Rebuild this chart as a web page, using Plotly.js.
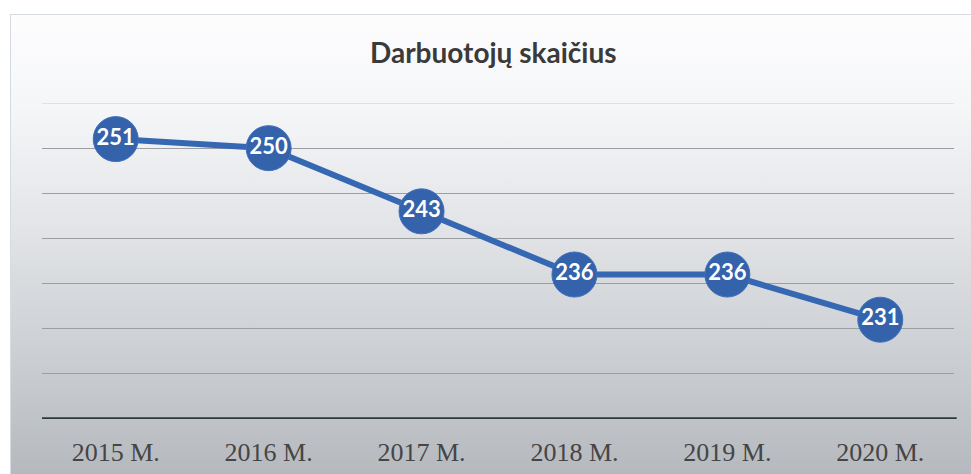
<!DOCTYPE html>
<html>
<head>
<meta charset="utf-8">
<script src="https://cdn.plot.ly/plotly-3.0.1.min.js"></script>
<style>
  html, body { margin:0; padding:0; background:#ffffff; }
  #wrap { position:relative; width:971px; height:474px; overflow:hidden; }
  #bg { position:absolute; left:10px; top:14px; width:961px; height:460px;
        border-left:1px solid #d6dbe2; border-top:1px solid #d6dbe2;
        background: linear-gradient(to bottom, #fdfdfe 0%, #f5f6f8 20%, #e3e5e8 45%, #cdd0d4 72%, #b5b9be 100%); }
  #chart { position:absolute; left:0; top:0; width:971px; height:474px; }
</style>
</head>
<body>
<div id="wrap">
  <div id="bg"></div>
  <div id="chart"></div>
</div>
<script>
const categories = ["2015 M.", "2016 M.", "2017 M.", "2018 M.", "2019 M.", "2020 M."];
const employees = [251, 250, 243, 236, 236, 231];
const chartTitle = "Darbuotojų skaičius";
const yMin = 220;
const yMax = 255;

const trace = {
  x: categories,
  y: employees,
  type: "scatter",
  mode: "lines+markers+text",
  text: employees.map(String),
  textposition: "middle center",
  textfont: { family: "Lato, 'Open Sans', sans-serif", size: 22, color: "#ffffff", weight: "bold" },
  line: { color: "#3567b3", width: 6 },
  marker: { size: 45, color: "#3462ab", line: { color: "#3f70bd", width: 1 } },
  hoverinfo: "skip",
  cliponaxis: false
};

const layout = {
  width: 971,
  height: 474,
  margin: { l: 42, r: 17, t: 103, b: 55 },
  paper_bgcolor: "rgba(0,0,0,0)",
  plot_bgcolor: "rgba(0,0,0,0)",
  showlegend: false,
  title: {
    text: "<b>" + chartTitle + "</b>",
    font: { family: "Lato, 'Open Sans', sans-serif", size: 28, color: "#3a3a3a" },
    x: 0.508, xanchor: "center",
    y: 0.888, yanchor: "middle"
  },
  xaxis: {
    type: "category",
    showgrid: false,
    zeroline: false,
    showline: false,
    ticks: "",
    tickfont: { family: "'Liberation Serif', 'Times New Roman', serif", size: 26, color: "#454545" },
    ticklabelstandoff: 15
  },
  yaxis: {
    range: [yMin, yMax],
    dtick: 5,
    tick0: yMin,
    showticklabels: false,
    ticks: "",
    showgrid: true,
    gridcolor: "#9c9fa2",
    gridwidth: 1,
    zeroline: false,
    showline: false
  },
  shapes: [{
    type: "line", xref: "paper", yref: "y",
    x0: 0, x1: 1, y0: yMax, y1: yMax,
    line: { color: "#c9ccd0", width: 1 }, layer: "below"
  }, {
    type: "line", xref: "paper", yref: "y",
    x0: 0, x1: 1.003, y0: yMin, y1: yMin,
    line: { color: "#2b3a3a", width: 3.5 }
  }]
};

Plotly.newPlot("chart", [trace], layout, { displayModeBar: false, staticPlot: true });
</script>
</body>
</html>
